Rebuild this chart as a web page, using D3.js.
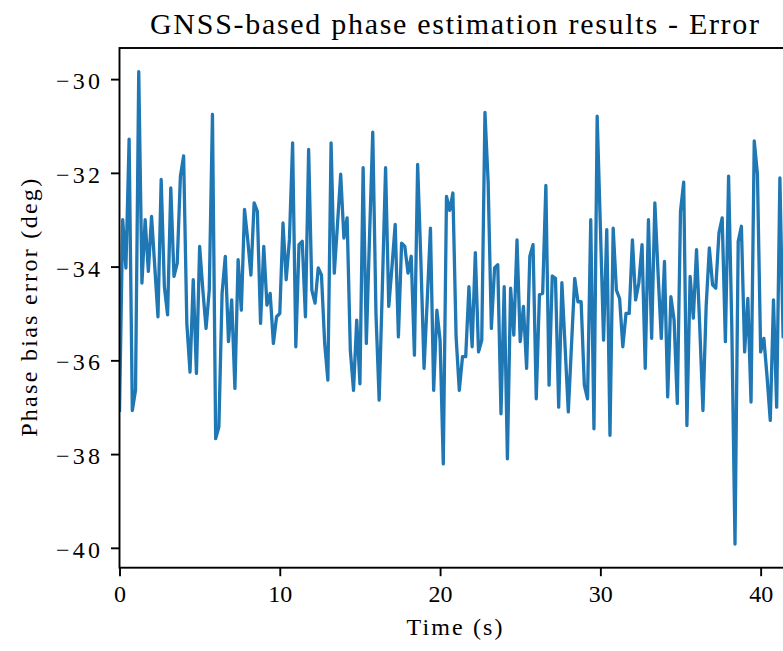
<!DOCTYPE html>
<html>
<head>
<meta charset="utf-8">
<script src="https://cdn.jsdelivr.net/npm/d3@7"></script>
<style>
    body { margin: 0; background: #fff; }
    svg { display: block; }
    text { font-family: "Liberation Serif", "DejaVu Serif", serif; fill: #000; }
</style>
</head>
<body>
<svg id="chart"></svg>
<script>
// Phase bias error samples (deg), one every 0.2 s starting at t = 0
const sampleStep = 0.2;
const phaseError = [
    -37.10, -33.00, -34.03, -31.28, -37.07, -36.64, -29.84, -34.35, -33.00, -34.10,
    -32.93, -34.00, -35.07, -32.14, -34.43, -35.03, -32.32, -34.21, -33.93, -32.07,
    -31.64, -35.21, -36.25, -34.28, -36.28, -33.57, -34.50, -35.32, -34.50, -30.75,
    -37.67, -37.42, -34.57, -33.78, -35.60, -34.71, -36.60, -33.85, -34.93, -32.78,
    -33.43, -34.18, -32.64, -32.82, -35.21, -33.57, -34.82, -34.57, -35.64, -35.07,
    -35.00, -33.07, -34.28, -33.43, -31.36, -35.71, -33.53, -33.46, -35.07, -31.50,
    -34.50, -34.78, -34.03, -34.18, -35.64, -36.42, -31.36, -34.14, -33.10, -32.03,
    -33.39, -32.96, -35.78, -36.64, -35.14, -36.50, -31.89, -35.64, -33.35, -31.13,
    -35.00, -36.85, -34.43, -31.89, -34.85, -34.00, -33.10, -35.50, -33.50, -33.57,
    -34.14, -33.78, -35.89, -31.82, -33.85, -36.17, -34.71, -33.18, -36.64, -34.93,
    -35.57, -38.21, -32.50, -32.80, -32.43, -35.50, -36.64, -35.92, -35.92, -34.43,
    -35.71, -33.70, -35.82, -35.57, -30.71, -32.21, -35.32, -34.03, -33.96, -37.14,
    -34.43, -38.10, -34.46, -35.46, -33.43, -35.60, -34.85, -36.17, -33.78, -33.53,
    -36.82, -34.60, -34.57, -32.27, -36.53, -34.20, -34.25, -37.00, -34.34, -35.71,
    -37.10, -35.67, -34.25, -34.75, -34.75, -36.53, -36.82, -33.00, -37.46, -30.79,
    -33.14, -35.57, -33.21, -37.60, -33.18, -34.50, -34.68, -35.71, -35.00, -35.00,
    -33.43, -34.71, -34.35, -33.53, -36.17, -33.00, -35.53, -32.64, -34.14, -35.53,
    -33.89, -36.78, -34.64, -35.14, -36.92, -32.82, -32.20, -37.39, -34.21, -35.10,
    -33.64, -35.28, -37.07, -34.85, -33.60, -34.39, -34.46, -33.28, -32.96, -35.60,
    -32.07, -35.28, -39.92, -33.46, -33.14, -35.82, -34.68, -36.89, -31.32, -32.03,
    -35.82, -35.53, -36.35, -37.28, -34.71, -37.00, -32.11, -35.50, -34.60, -33.90
];

const xTicks = [0, 10, 20, 30, 40];
const yTicks = [-40, -38, -36, -34, -32, -30];

const titleText = "GNSS-based phase estimation results - Error";
const xLabelText = "Time (s)";
const yLabelText = "Phase bias error (deg)";

const width = 783;
const height = 651;

// Axes box (right side runs past the window, like the original figure)
const margin = { left: 119.5, top: 48, right: 789.5, bottom: 567.7 };

const svg = d3.select("#chart")
    .attr("width", width)
    .attr("height", height);

const data = phaseError.map((v, i) => ({ t: i * sampleStep, v: v }));

// x limits hug the data, y limits get a 5% margin like matplotlib
const tMax = d3.max(data, d => d.t);
const [vMin, vMax] = d3.extent(phaseError);
const pad = (vMax - vMin) * 0.05;

const x = d3.scaleLinear()
    .domain([0, tMax])
    .range([margin.left, margin.right]);

const y = d3.scaleLinear()
    .domain([vMin - pad, vMax + pad])
    .range([margin.bottom, margin.top]);

svg.append("clipPath")
    .attr("id", "plot-clip")
    .append("rect")
    .attr("x", margin.left)
    .attr("y", margin.top)
    .attr("width", margin.right - margin.left)
    .attr("height", margin.bottom - margin.top);

// The error line
const line = d3.line()
    .x(d => x(d.t))
    .y(d => y(d.v));

svg.append("path")
    .datum(data)
    .attr("clip-path", "url(#plot-clip)")
    .attr("fill", "none")
    .attr("stroke", "#1f77b4")
    .attr("stroke-width", 3.3)
    .attr("stroke-linejoin", "round")
    .attr("d", line);

// Axes
const xAxis = svg.append("g")
    .attr("transform", `translate(0,${margin.bottom})`)
    .call(d3.axisBottom(x).tickValues(xTicks).tickSize(8.5).tickPadding(9).tickFormat(d3.format("d")));

const yAxis = svg.append("g")
    .attr("transform", `translate(${margin.left},0)`)
    .call(d3.axisLeft(y).tickValues(yTicks).tickSize(8.5).tickPadding(11).tickFormat(d3.format("d")));

[xAxis, yAxis].forEach(ax => {
    ax.select(".domain").remove();
    ax.selectAll(".tick line").attr("stroke", "#000").attr("stroke-width", 1.9);
    ax.selectAll(".tick text")
        .attr("font-family", "Liberation Serif, DejaVu Serif, serif")
        .attr("font-size", 24)
        .attr("fill", "#000");
});
// the minus sign is wider in the original font, stretch labels to match
yAxis.selectAll(".tick text")
    .attr("dy", "0.40em")
    .attr("textLength", 44)
    .attr("lengthAdjust", "spacing");

// Spines drawn as a frame
svg.append("rect")
    .attr("x", margin.left)
    .attr("y", margin.top)
    .attr("width", margin.right - margin.left)
    .attr("height", margin.bottom - margin.top)
    .attr("fill", "none")
    .attr("stroke", "#000")
    .attr("stroke-width", 1.9);

// Title and axis labels
const centerX = (margin.left + margin.right) / 2;

svg.append("text")
    .attr("x", centerX)
    .attr("y", 34)
    .attr("text-anchor", "middle")
    .attr("font-size", 30)
    .attr("textLength", 609)
    .attr("lengthAdjust", "spacing")
    .text(titleText);

svg.append("text")
    .attr("x", centerX)
    .attr("y", 635)
    .attr("text-anchor", "middle")
    .attr("font-size", 24)
    .attr("textLength", 96)
    .attr("lengthAdjust", "spacing")
    .text(xLabelText);

svg.append("text")
    .attr("transform", `translate(36.5,${(margin.top + margin.bottom) / 2}) rotate(-90)`)
    .attr("text-anchor", "middle")
    .attr("font-size", 24)
    .attr("textLength", 258)
    .attr("lengthAdjust", "spacing")
    .text(yLabelText);
</script>
</body>
</html>
